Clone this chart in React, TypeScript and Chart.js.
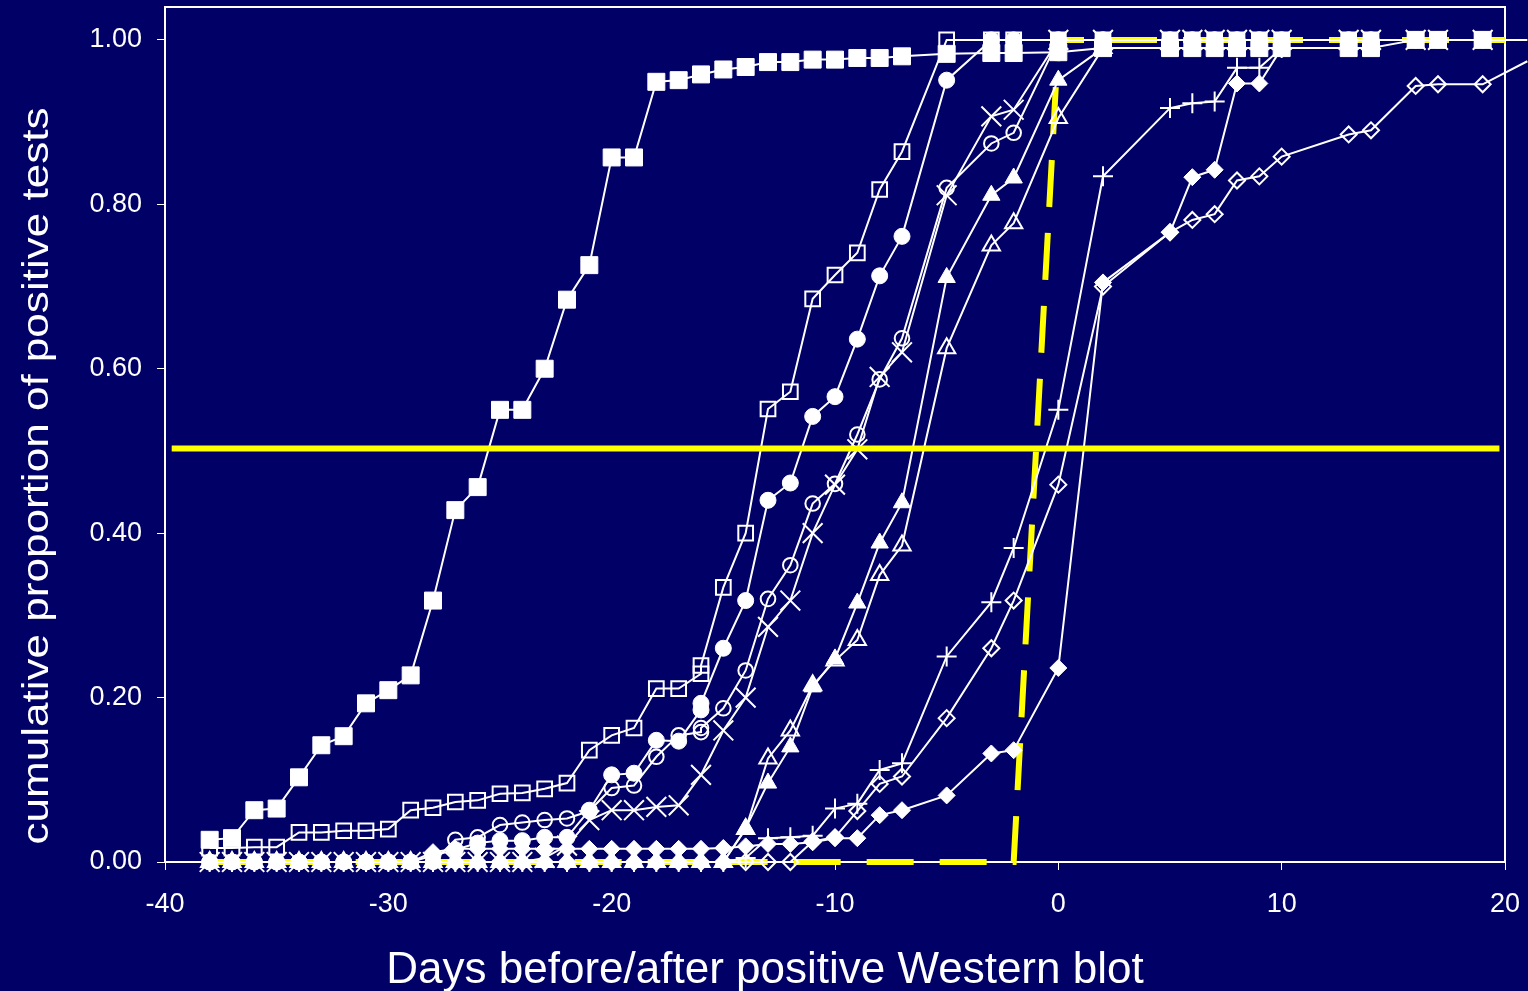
import { useEffect, useRef } from 'react';
import { Chart, registerables } from 'chart.js';

Chart.register(...registerables);

const W = 1528;
const H = 991;
const NAVY = '#000066';
const WHITE = '#ffffff';
const YELLOW = '#ffff00';
const FONT = "'Liberation Sans', Arial, sans-serif";

const xTicks = [-40, -30, -20, -10, 0, 10, 20];
const yTicks = [0, 0.2, 0.4, 0.6, 0.8, 1.0];
const xTitle = 'Days before/after positive Western blot';
const yTitle = 'cumulative proportion of positive tests';

// filled squares
const daysA = [-38, -37, -36, -35, -34, -33, -32, -31, -30, -29, -28, -27, -26, -25, -24, -23, -22, -21, -20, -19, -18, -17, -16, -15, -14, -13, -12, -11, -10, -9, -8, -7, -5, -3, -2, 0, 2, 5, 6, 7, 8, 9, 10, 13, 14, 16, 17, 19];
const propA = [0.027, 0.029, 0.063, 0.065, 0.103, 0.142, 0.153, 0.193, 0.209, 0.227, 0.318, 0.428, 0.456, 0.55, 0.55, 0.6, 0.684, 0.726, 0.857, 0.857, 0.949, 0.951, 0.958, 0.964, 0.967, 0.973, 0.973, 0.976, 0.976, 0.978, 0.978, 0.98, 0.983, 0.984, 0.984, 0.985, 0.99, 0.99, 0.99, 0.99, 0.99, 0.99, 0.99, 0.99, 0.99, 1, 1, 1];

// open squares
const daysB = [-38, -37, -36, -35, -34, -33, -32, -31, -30, -29, -28, -27, -26, -25, -24, -23, -22, -21, -20, -19, -18, -17, -16, -16, -15, -14, -13, -12, -11, -10, -9, -8, -7, -5, -3, -2, 0, 2, 5, 6, 7, 8, 9, 10, 13, 14, 16, 17, 19, 21];
const propB = [0.017, 0.017, 0.018, 0.018, 0.036, 0.036, 0.038, 0.038, 0.04, 0.063, 0.066, 0.073, 0.075, 0.083, 0.084, 0.089, 0.096, 0.136, 0.154, 0.163, 0.211, 0.211, 0.229, 0.239, 0.334, 0.4, 0.551, 0.572, 0.685, 0.714, 0.741, 0.818, 0.864, 1, 1, 1, 1, 1, 1, 1, 1, 1, 1, 1, 1, 1, 1, 1, 1, 1];

// filled circles
const daysC = [-38, -37, -36, -35, -34, -33, -32, -31, -30, -29, -28, -27, -26, -25, -24, -23, -22, -21, -20, -19, -18, -17, -16, -16, -15, -14, -13, -12, -11, -10, -9, -8, -7, -5, -3, -2, 0, 2, 5, 6, 7, 8, 9, 10, 13, 14, 16, 17, 19];
const propC = [0, 0, 0, 0, 0, 0, 0, 0, 0, 0, 0.008, 0.015, 0.023, 0.026, 0.026, 0.03, 0.03, 0.063, 0.106, 0.108, 0.148, 0.147, 0.185, 0.193, 0.26, 0.318, 0.44, 0.461, 0.542, 0.566, 0.636, 0.713, 0.761, 0.951, 1, 1, 1, 1, 1, 1, 1, 1, 1, 1, 1, 1, 1, 1, 1];

// open circles
const daysD = [-38, -37, -36, -35, -34, -33, -32, -31, -30, -29, -28, -27, -26, -25, -24, -23, -22, -21, -20, -19, -18, -17, -16, -16, -15, -14, -13, -12, -11, -10, -9, -8, -7, -5, -3, -2, 0, 2, 5, 6, 7, 8, 9, 10, 13, 14, 16, 17, 19];
const propD = [0, 0, 0, 0, 0, 0, 0, 0, 0, 0, 0, 0.027, 0.03, 0.045, 0.048, 0.051, 0.053, 0.062, 0.09, 0.093, 0.128, 0.154, 0.158, 0.163, 0.187, 0.233, 0.32, 0.361, 0.436, 0.46, 0.52, 0.587, 0.637, 0.82, 0.874, 0.887, 1, 1, 1, 1, 1, 1, 1, 1, 1, 1, 1, 1, 1];

// crosses (x)
const daysE = [-38, -37, -36, -35, -34, -33, -32, -31, -30, -29, -28, -27, -26, -25, -24, -23, -22, -21, -20, -19, -18, -17, -16, -15, -14, -13, -12, -11, -10, -9, -8, -7, -5, -3, -2, 0, 2, 5, 6, 7, 8, 9, 10, 13, 14, 16, 17, 19];
const propE = [0, 0, 0, 0, 0, 0, 0, 0, 0, 0, 0, 0, 0, 0, 0, 0.005, 0.02, 0.051, 0.063, 0.063, 0.067, 0.069, 0.106, 0.16, 0.2, 0.286, 0.318, 0.4, 0.459, 0.502, 0.59, 0.62, 0.811, 0.907, 0.915, 1, 1, 1, 1, 1, 1, 1, 1, 1, 1, 1, 1, 1];

// filled triangles
const daysF = [-38, -37, -36, -35, -34, -33, -32, -31, -30, -29, -28, -27, -26, -25, -24, -23, -22, -21, -20, -19, -18, -17, -16, -15, -14, -13, -12, -11, -10, -9, -8, -7, -5, -3, -2, 0, 2];
const propF = [0, 0, 0, 0, 0, 0, 0, 0, 0, 0, 0, 0, 0, 0, 0, 0, 0, 0, 0, 0, 0, 0, 0, 0, 0.041, 0.096, 0.14, 0.213, 0.247, 0.315, 0.388, 0.437, 0.711, 0.811, 0.832, 0.951, 0.99];

// open triangles
const daysG = [-38, -37, -36, -35, -34, -33, -32, -31, -30, -29, -28, -27, -26, -25, -24, -23, -22, -21, -20, -19, -18, -17, -16, -15, -14, -13, -12, -11, -10, -9, -8, -7, -5, -3, -2, 0, 2];
const propG = [0, 0, 0, 0, 0, 0, 0, 0, 0, 0, 0, 0, 0, 0, 0, 0, 0, 0, 0, 0, 0, 0, 0, 0, 0.04, 0.126, 0.16, 0.215, 0.245, 0.27, 0.349, 0.385, 0.625, 0.75, 0.777, 0.905, 0.99];

// plus signs
const daysH = [-38, -37, -36, -35, -34, -33, -32, -31, -30, -29, -28, -27, -26, -25, -24, -23, -22, -21, -20, -19, -18, -17, -16, -15, -14, -13, -12, -11, -10, -9, -8, -7, -5, -3, -2, 0, 2, 5, 6, 7, 8, 9, 10];
const propH = [0, 0, 0, 0, 0, 0, 0, 0, 0, 0, 0, 0, 0, 0, 0, 0, 0, 0, 0, 0, 0, 0, 0, 0, 0.005, 0.029, 0.03, 0.032, 0.065, 0.071, 0.112, 0.12, 0.25, 0.316, 0.382, 0.55, 0.834, 0.917, 0.923, 0.925, 0.966, 0.966, 0.99];

// open diamonds
const daysI = [-38, -37, -36, -35, -34, -33, -32, -31, -30, -29, -28, -27, -26, -25, -24, -23, -22, -21, -20, -19, -18, -17, -16, -15, -14, -13, -12, -11, -10, -9, -8, -7, -5, -3, -2, 0, 2, 5, 6, 7, 8, 9, 10, 13, 14, 16, 17, 19, 21];
const propI = [0, 0, 0, 0, 0, 0, 0, 0, 0, 0, 0, 0, 0, 0, 0, 0, 0, 0, 0, 0, 0, 0, 0, 0, 0, 0, 0, 0.025, 0.03, 0.062, 0.095, 0.104, 0.175, 0.26, 0.318, 0.459, 0.7, 0.766, 0.781, 0.788, 0.829, 0.834, 0.858, 0.885, 0.89, 0.944, 0.946, 0.946, 0.974];

// filled diamonds
const daysJ = [-38, -37, -36, -35, -34, -33, -32, -31, -30, -29, -28, -27, -26, -25, -24, -23, -22, -21, -20, -19, -18, -17, -16, -15, -14, -13, -12, -11, -10, -9, -8, -7, -5, -3, -2, 0, 2, 5, 6, 7, 8, 9, 10];
const propJ = [0, 0, 0, 0, 0, 0, 0, 0, 0, 0, 0.012, 0.016, 0.016, 0.016, 0.016, 0.016, 0.016, 0.016, 0.016, 0.016, 0.016, 0.016, 0.016, 0.017, 0.019, 0.022, 0.022, 0.024, 0.029, 0.029, 0.057, 0.063, 0.081, 0.132, 0.136, 0.236, 0.705, 0.766, 0.833, 0.842, 0.947, 0.947, 0.99];

// reference assay step (dashed) and the 50% level
const stepDays = [-38, -2, 0, 20];
const stepProp = [0, 0, 1, 1];
const halfDays = [-39.7, 19.75];
const halfProp = [0.503, 0.503];

type Pt = { x: number; y: number };
const toPoints = (days: number[], props: number[]): Pt[] => days.map((d, i) => ({ x: d, y: props[i] }));

// markers past the right edge of the axis are not drawn
const radiusFor = (r: number) => (c: any) => (c.raw && c.raw.x > 20 ? 0 : r);

function whiteSeries(days: number[], props: number[], style: string, r: number, filled: boolean, order: number) {
  return {
    data: toPoints(days, props),
    borderColor: WHITE,
    borderWidth: 2,
    pointStyle: style,
    pointRadius: radiusFor(r),
    pointHoverRadius: radiusFor(r),
    pointBackgroundColor: filled ? WHITE : 'rgba(0,0,0,0)',
    pointBorderColor: WHITE,
    pointBorderWidth: filled ? 1 : 2,
    fill: false,
    tension: 0,
    clip: false as const,
    order,
  };
}

// the axes keep exactly the box they are given: no extra room for overhanging labels
const noOverhang = (s: any) => {
  s.paddingLeft = 0;
  s.paddingRight = 0;
  s.paddingTop = 0;
  s.paddingBottom = 0;
};

const background = {
  id: 'background',
  beforeDraw(chart: any) {
    const ctx = chart.ctx;
    ctx.save();
    ctx.fillStyle = NAVY;
    ctx.fillRect(0, 0, chart.width, chart.height);
    ctx.restore();
  },
};

const frame = {
  id: 'frame',
  beforeDatasetsDraw(chart: any) {
    const { ctx, chartArea: a } = chart;
    ctx.save();
    ctx.strokeStyle = WHITE;
    ctx.lineWidth = 2;
    ctx.strokeRect(a.left, a.top, a.right - a.left, a.bottom - a.top);
    ctx.restore();
  },
};

const axisTitles = {
  id: 'axisTitles',
  afterDraw(chart: any) {
    const ctx = chart.ctx;
    ctx.save();
    ctx.fillStyle = WHITE;
    ctx.font = `44px ${FONT}`;
    ctx.textAlign = 'center';
    ctx.textBaseline = 'alphabetic';
    ctx.fillText(xTitle, 765, 983);
    ctx.restore();

    ctx.save();
    ctx.fillStyle = WHITE;
    ctx.font = `36px ${FONT}`;
    const w = ctx.measureText(yTitle).width;
    ctx.translate(48, 476);
    ctx.rotate(-Math.PI / 2);
    ctx.scale(737 / w, 1);
    ctx.textAlign = 'center';
    ctx.textBaseline = 'alphabetic';
    ctx.fillText(yTitle, 0, 0);
    ctx.restore();
  },
};

export default function App() {
  const canvasRef = useRef<HTMLCanvasElement>(null);

  useEffect(() => {
    const canvas = canvasRef.current;
    if (!canvas) return;

    const chart = new Chart(canvas, {
      type: 'line',
      data: {
        datasets: [
          {
            data: toPoints(halfDays, halfProp),
            borderColor: YELLOW,
            borderWidth: 6,
            pointRadius: 0,
            pointHoverRadius: 0,
            fill: false,
            clip: false,
            order: 0,
          },
          whiteSeries(daysA, propA, 'rect', 12, true, 1),
          whiteSeries(daysJ, propJ, 'rectRot', 8.5, true, 2),
          whiteSeries(daysI, propI, 'rectRot', 8, false, 3),
          whiteSeries(daysH, propH, 'cross', 10, false, 4),
          whiteSeries(daysG, propG, 'triangle', 10, false, 5),
          whiteSeries(daysF, propF, 'triangle', 10, true, 6),
          whiteSeries(daysE, propE, 'crossRot', 14, false, 7),
          whiteSeries(daysD, propD, 'circle', 7.3, false, 8),
          whiteSeries(daysC, propC, 'circle', 8, true, 9),
          whiteSeries(daysB, propB, 'rect', 10.4, false, 10),
          {
            data: toPoints(stepDays, stepProp),
            borderColor: YELLOW,
            borderWidth: 6,
            borderDash: [47, 26],
            pointRadius: 0,
            pointHoverRadius: 0,
            fill: false,
            clip: false,
            order: 99,
          },
        ] as any,
      },
      options: {
        responsive: false,
        animation: false,
        devicePixelRatio: 1,
        events: [],
        layout: {
          padding: { left: 0, top: 7, right: 23, bottom: 0 },
          autoPadding: false,
        },
        plugins: {
          legend: { display: false },
          tooltip: { enabled: false },
        },
        scales: {
          x: {
            type: 'linear',
            min: -40,
            max: 20,
            afterBuildTicks: (s: any) => {
              s.ticks = xTicks.map((v) => ({ value: v }));
            },
            afterFit: (s: any) => {
              s.height = 129;
              noOverhang(s);
            },
            grid: {
              display: true,
              drawOnChartArea: false,
              drawTicks: true,
              tickLength: 8,
              color: WHITE,
              lineWidth: 1,
            },
            border: { display: true, color: WHITE, width: 2 },
            ticks: {
              color: WHITE,
              font: { family: FONT, size: 27 },
              padding: 18,
              maxRotation: 0,
              autoSkip: false,
              callback: (v: any) => String(v),
            },
          },
          y: {
            type: 'linear',
            min: 0,
            max: 1.04,
            afterBuildTicks: (s: any) => {
              s.ticks = yTicks.map((v) => ({ value: v }));
            },
            afterFit: (s: any) => {
              s.width = 165;
              noOverhang(s);
            },
            grid: {
              display: true,
              drawOnChartArea: false,
              drawTicks: true,
              tickLength: 8,
              color: WHITE,
              lineWidth: 1,
            },
            border: { display: true, color: WHITE, width: 2 },
            ticks: {
              color: WHITE,
              font: { family: FONT, size: 27 },
              padding: 15,
              autoSkip: false,
              callback: (v: any) => Number(v).toFixed(2),
            },
          },
        },
      } as any,
      plugins: [background, frame, axisTitles],
    });

    return () => chart.destroy();
  }, []);

  return (
    <div style={{ position: 'fixed', left: 0, top: 0, width: W, height: H, background: NAVY }}>
      <canvas ref={canvasRef} width={W} height={H} style={{ display: 'block', width: W, height: H }} />
    </div>
  );
}
